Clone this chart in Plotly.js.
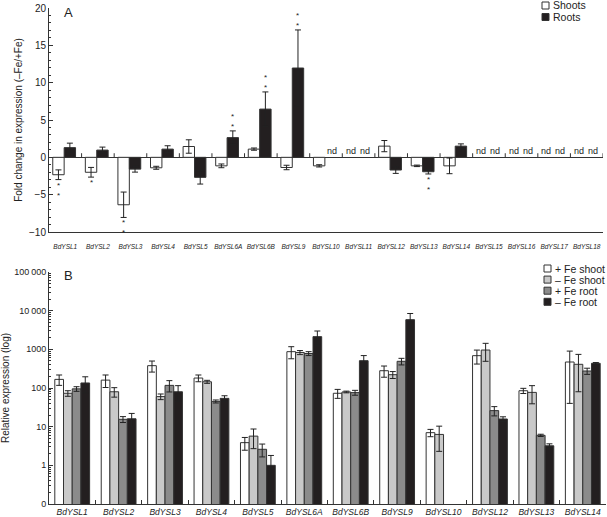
<!DOCTYPE html>
<html>
<head>
<meta charset="utf-8">
<script src="https://cdn.plot.ly/plotly-3.0.1.min.js"></script>
<style>html,body{margin:0;padding:0;background:#fff;}#chart{width:607px;height:517px;}</style>
</head>
<body>
<div id="chart"></div>
<script>
// ---------- Panel A data: fold change (-Fe/+Fe) ----------
const genesA = ['BdYSL1','BdYSL2','BdYSL3','BdYSL4','BdYSL5','BdYSL6A','BdYSL6B','BdYSL9','BdYSL10','BdYSL11','BdYSL12','BdYSL13','BdYSL14','BdYSL15','BdYSL16','BdYSL17','BdYSL18'];
const shootsFC  = [-2.33, -2.0, -6.35, -1.4, 1.45, -1.14, 1.1, -1.36, -1.14, null, 1.5, -1.14, -1.14, null, null, null, null];
const shootsErr = [0.65, 0.65, 1.7, 0.2, 0.9, 0.25, 0.15, 0.3, 0.15, null, 0.75, 0.1, 1.05, null, null, null, null];
const rootsFC   = [1.3, 0.97, -1.58, 1.1, -2.68, 2.64, 6.46, 11.96, null, null, -1.7, -1.93, 1.5, null, null, null, null];
const rootsErr  = [0.6, 0.4, 0.4, 0.45, 0.9, 0.9, 2.3, 5.1, null, null, 0.45, 0.3, 0.3, null, null, null, null];
const shootsSig = ['**','*','**','','','','','','','','','','','','','',''];
const rootsSig  = ['','','','','','**','**','**','','','','**','','','','',''];
const seriesA   = ['Shoots', 'Roots'];

// ---------- Panel B data: relative expression ----------
const genesB = ['BdYSL1','BdYSL2','BdYSL3','BdYSL4','BdYSL5','BdYSL6A','BdYSL6B','BdYSL9','BdYSL10','BdYSL12','BdYSL13','BdYSL14'];
const plusFeShoot     = [167, 160, 378, 181, 3.86, 870, 73, 280, 7.0, 686, 85, 470];
const plusFeShootErr  = [50, 57, 120, 36, 1.4, 300, 19, 90, 1.5, 270, 13, 430];
const minusFeShoot    = [73, 80, 60, 145, 5.7, 830, 79, 221, 6.3, 960, 77, 410];
const minusFeShootErr = [12, 22, 10, 13, 3, 100, 4, 45, 4, 470, 38, 330];
const plusFeRoot      = [95, 15.5, 117, 45, 2.6, 780, 76, 490, null, 26, 5.97, 275];
const plusFeRootErr   = [13, 2.7, 38, 4, 0.95, 90, 11, 95, null, 7, 0.4, 50];
const minusFeRoot     = [135, 16, 80, 54, 1.0, 2130, 509, 5850, null, 15.8, 3.2, 435];
const minusFeRootErr  = [60, 6, 35, 9, 0.8, 850, 180, 2600, null, 2.2, 0.4, 20];
const seriesB = ['+ Fe shoot', '\u2013 Fe shoot', '+ Fe root', '\u2013 Fe root'];

const yTickValsB = [0.1, 1, 10, 100, 1000, 10000, 100000];
const yTickTextB = ['0', '1', '10', '100', '1000', '10\u2009000', '100\u2009000'];

// ---------- styling ----------
const FONT = 'Liberation Sans, Arial, Helvetica, sans-serif';
const INK = '#222';
const OUT = '#333';
const C_WHITE = '#ffffff', C_LIGHT = '#c9c9c9', C_MID = '#8b8b8b', C_BLACK = '#231f20';
const colorsA = [C_WHITE, C_BLACK];
const colorsB = [C_WHITE, C_LIGHT, C_MID, C_BLACK];

function errY(arr){ return {type:'data', array:arr, visible:true, color:INK, thickness:1, width:3}; }

const shootOffA = -0.385, rootOffA = -0.035, wA = 0.35;
const wB = 0.1875, offB = [-0.375, -0.1875, 0, 0.1875];

const valsB = [plusFeShoot, minusFeShoot, plusFeRoot, minusFeRoot];
const errsB = [plusFeShootErr, minusFeShootErr, plusFeRootErr, minusFeRootErr];

const traces = [
  {type:'bar', name:seriesA[0], x:genesA, y:shootsFC, error_y:errY(shootsErr), xaxis:'x', yaxis:'y',
   width:wA, offset:shootOffA, marker:{color:colorsA[0], line:{color:OUT, width:1}}, showlegend:false},
  {type:'bar', name:seriesA[1], x:genesA, y:rootsFC, error_y:errY(rootsErr), xaxis:'x', yaxis:'y',
   width:wA, offset:rootOffA, marker:{color:colorsA[1], line:{color:OUT, width:1}}, showlegend:false}
];
seriesB.forEach((name, k) => {
  traces.push({type:'bar', name:name, x:genesB, y:valsB[k], error_y:errY(errsB[k]), xaxis:'x2', yaxis:'y2',
    width:wB, offset:offB[k], marker:{color:colorsB[k], line:{color:OUT, width:1}}, showlegend:false});
});

// annotations: significance stars and "nd" labels, derived from the data
const annotations = [];
function addSeriesNotes(vals, errs, sigs, off, ndShift){
  vals.forEach((v, i) => {
    const xc = i + off + wA/2;
    if (v === null) {
      annotations.push({xref:'x', yref:'y', x:xc, y:0, text:'nd', showarrow:false, yanchor:'bottom', yshift:-1,
        xshift:ndShift, font:{family:FONT, size:9, color:INK}});
      return;
    }
    if (sigs[i]) {
      const neg = v < 0;
      const yEnd = neg ? v - errs[i] : v + errs[i];
      annotations.push({xref:'x', yref:'y', x:xc, y:yEnd, text:sigs[i].split('').join('<br>'), showarrow:false,
        yanchor: neg ? 'top' : 'bottom', yshift: neg ? 1 : -2,
        font:{family:FONT, size:8, color:INK}});
    }
  });
}
addSeriesNotes(shootsFC, shootsErr, shootsSig, shootOffA, -1);
addSeriesNotes(rootsFC, rootsErr, rootsSig, rootOffA, 1.5);

annotations.push({xref:'paper', yref:'paper', x:62/607, y:1-3/517, xanchor:'left', yanchor:'top', text:'A', showarrow:false,
  font:{family:FONT, size:13, color:INK}});
annotations.push({xref:'paper', yref:'paper', x:62/607, y:1-266/517, xanchor:'left', yanchor:'top', text:'B', showarrow:false,
  font:{family:FONT, size:13, color:INK}});

const shapes = [];
// category separator ticks on the zero line of panel A
for (let i = 0; i < genesA.length; i++) {
  shapes.push({type:'line', xref:'x', yref:'y', x0:i+0.5, x1:i+0.5, y0:0, y1:0.55, line:{color:OUT, width:1}});
}

// compact legends (swatch + label), styled to match the figure
function addLegend(names, colors, sqX, txtX, yTop, step){
  names.forEach((name, k) => {
    const yc = yTop + k*step;
    shapes.push({type:'rect', xref:'paper', yref:'paper', x0:sqX/607, x1:(sqX+7)/607,
      y0:1-(yc+3.5)/517, y1:1-(yc-3.5)/517, fillcolor:colors[k], line:{color:OUT, width:1}});
    annotations.push({xref:'paper', yref:'paper', x:txtX/607, y:1-yc/517, xanchor:'left', yanchor:'middle',
      text:name, showarrow:false, font:{family:FONT, size:10.5, color:INK}});
  });
}
addLegend(seriesA, colorsA, 542, 551, 5.5, 11.5);
addLegend(seriesB, colorsB, 544, 553, 268.5, 11.1);

// minor ticks for log axis
const minorB = [];
for (let d = -1; d < 5; d++) for (let k = 2; k <= 9; k++) minorB.push(k * Math.pow(10, d));

const layout = {
  width:607, height:517,
  margin:{l:0, r:0, t:0, b:0},
  paper_bgcolor:'#fff', plot_bgcolor:'#fff',
  font:{family:FONT, color:INK, size:10},
  barmode:'overlay',
  showlegend:false,
  xaxis:{domain:[49/607, 603/607], anchor:'y', type:'category', categoryorder:'array', categoryarray:genesA,
    range:[-0.5, genesA.length-0.5], showline:true, linecolor:OUT, linewidth:1, ticks:'', showgrid:false, zeroline:false,
    tickfont:{family:FONT, size:6.5, style:'italic', color:INK}, ticklabelstandoff:8, automargin:false, fixedrange:true},
  yaxis:{domain:[1-232/517, 1-8/517], anchor:'x', range:[-10, 20], tickvals:[-10,-5,0,5,10,15,20],
    ticks:'inside', ticklen:4, tickcolor:OUT, showline:true, linecolor:OUT, linewidth:1,
    minor:{dtick:1, ticks:'inside', ticklen:2, tickcolor:OUT},
    showgrid:false, zeroline:true, zerolinecolor:OUT, zerolinewidth:1,
    tickfont:{family:FONT, size:10, color:INK}, automargin:false, fixedrange:true,
    title:{text:'Fold change in expression (\u2013Fe/+Fe)', font:{family:FONT, size:10, color:INK}, standoff:4}},
  xaxis2:{domain:[49/607, 606/607], anchor:'y2', type:'category', categoryorder:'array', categoryarray:genesB,
    range:[-0.5, genesB.length-0.5], showline:true, linecolor:OUT, linewidth:1, ticks:'inside', tickson:'boundaries',
    ticklen:4, tickcolor:OUT, showgrid:false, zeroline:false,
    tickfont:{family:FONT, size:8.5, style:'italic', color:INK}, automargin:false, fixedrange:true},
  yaxis2:{domain:[1-504/517, 1-272/517], anchor:'x2', type:'log', range:[-1, 5],
    tickmode:'array', tickvals:yTickValsB, ticktext:yTickTextB,
    ticks:'inside', ticklen:4, tickcolor:OUT, showline:true, linecolor:OUT, linewidth:1,
    minor:{tickmode:'array', tickvals:minorB, ticks:'inside', ticklen:2, tickcolor:OUT},
    showgrid:false, zeroline:false,
    tickfont:{family:FONT, size:9, color:INK}, automargin:false, fixedrange:true,
    title:{text:'Relative expression (log)', font:{family:FONT, size:10, color:INK}, standoff:4}},
  annotations:annotations,
  shapes:shapes
};

Plotly.newPlot('chart', traces, layout, {staticPlot:true, displayModeBar:false});
</script>
</body>
</html>
